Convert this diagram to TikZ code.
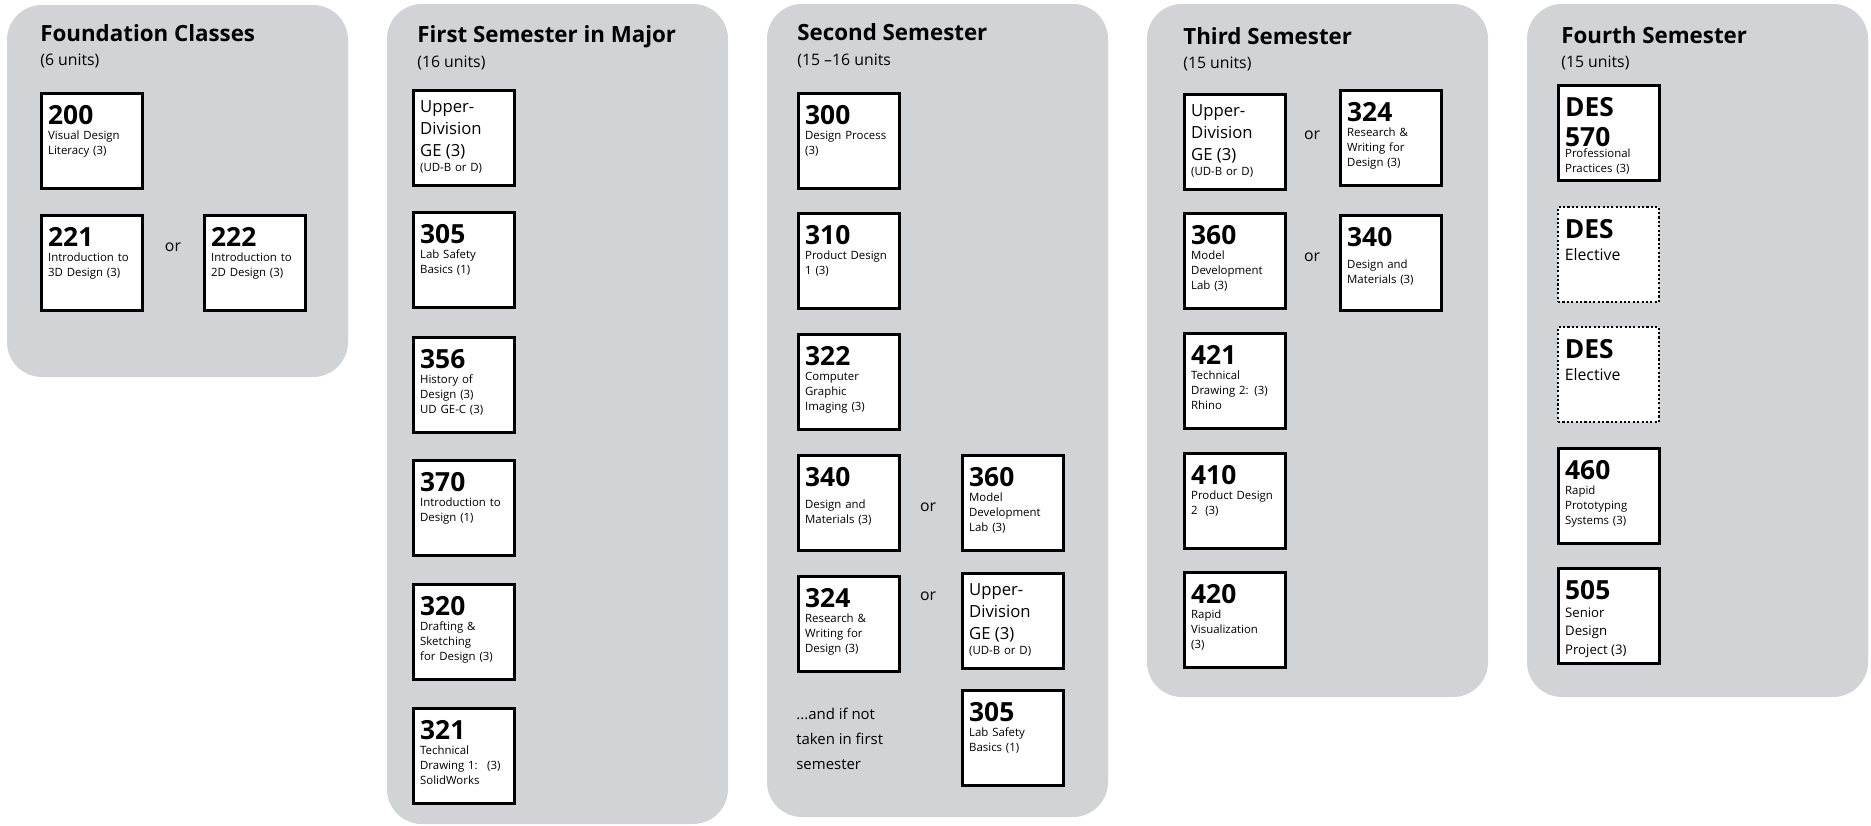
\documentclass[tikz,border=0pt]{standalone}
\usepackage{fontspec}
\setmainfont{Open Sans}
\usepackage{tikz}
\definecolor{panelgray}{HTML}{D1D3D4}
\newcommand{\cnum}[1]{{\fontsize{15}{17}\selectfont\bfseries #1\par}}
\newcommand{\cdesc}[1]{{\fontsize{6.5}{8.5}\selectfont #1\par}}
\newcommand{\gehead}{{\fontsize{9.5}{12.3}\selectfont\spaceskip=0pt Upper-\\Division\\GE (3)\par}\cdesc{(UD-B or D)}}

\begin{document}
\begin{tikzpicture}[x=0.02cm, y=-0.02cm,
	course/.style={draw=black, line width=1.6pt, fill=white, anchor=north west, align=left,
		font=\fontsize{6.5}{8.5}\selectfont, text width=1.75cm, inner xsep=0.135cm, inner ysep=0.1cm,
		text height=0.52cm, text depth=1.18cm},
	ge/.style={course, text height=0.35cm, text depth=1.35cm},
	elective/.style={course, line width=1.2pt, dash pattern=on 1.2pt off 1.3pt},
	title/.style={anchor=base west, inner sep=0pt, font=\fontsize{12.7}{15}\selectfont\bfseries},
	units/.style={anchor=base west, inner sep=0pt, font=\fontsize{9}{11}\selectfont},
	ortext/.style={inner sep=0pt, font=\fontsize{9}{11}\selectfont}]
	\useasboundingbox (0,0) rectangle (1871,825);
	\begin{scope}[every path/.style={fill=panelgray, rounded corners=0.7cm}]
		\path (7,5) rectangle (348,377);
		\path (387,4) rectangle (728,824);
		\path (767,4) rectangle (1108,817);
		\path (1147,4) rectangle (1488,697);
		\path (1527,4) rectangle (1868,697);
	\end{scope}
	\node[title] (t1) at (40,41) {Foundation Classes};
	\node[units] (u1) at (40,65) {(6 units)};
	\node[title] (t2) at (417,42) {First Semester in Major};
	\node[units] (u2) at (417,67) {(16 units)};
	\node[title] (t3) at (797,40) {Second Semester};
	\node[units] (u3) at (797,65) {(15 –16 units};
	\node[title] (t4) at (1183,44) {Third Semester};
	\node[units] (u4) at (1183,68) {(15 units)};
	\node[title] (t5) at (1561,43) {Fourth Semester};
	\node[units] (u5) at (1561,67) {(15 units)};
	\begin{scope}[every node/.style={course}]
		\node (fc200) at (40,92) {\cnum{200}\cdesc{Visual Design\\Literacy (3)}};
		\node (fc221) at (40,214) {\cnum{221}\cdesc{Introduction to\\3D Design (3)}};
		\node (fc222) at (203,214) {\cnum{222}\cdesc{Introduction to\\2D Design (3)}};
		\node[ge] (s1ge) at (412,89) {\gehead};
		\node (s1305) at (412,211) {\cnum{305}\cdesc{Lab Safety\\Basics (1)}};
		\node (s1356) at (412,336) {\cnum{356}\cdesc{History of\\Design (3)\\UD GE-C (3)}};
		\node (s1370) at (412,459) {\cnum{370}\cdesc{Introduction to\\Design (1)}};
		\node (s1320) at (412,583) {\cnum{320}\cdesc{Drafting \&\\Sketching\\for Design (3)}};
		\node (s1321) at (412,707) {\cnum{321}\cdesc{Technical\\Drawing 1:~ (3)\\SolidWorks}};
		\node (s2300) at (797,92) {\cnum{300}\cdesc{Design Process\\(3)}};
		\node (s2310) at (797,212) {\cnum{310}\cdesc{Product Design\\1 (3)}};
		\node (s2322) at (797,333) {\cnum{322}\cdesc{Computer\\Graphic\\Imaging (3)}};
		\node (s2340) at (797,454) {\cnum{340}\vspace{4pt}\cdesc{Design and\\Materials (3)}};
		\node (s2360) at (961,454) {\cnum{360}\cdesc{Model\\Development\\Lab (3)}};
		\node (s2324) at (797,575) {\cnum{324}\cdesc{Research \&\\Writing for\\Design (3)}};
		\node[ge] (s2ge) at (961,572) {\gehead};
		\node (s2305) at (961,689) {\cnum{305}\cdesc{Lab Safety\\Basics (1)}};
		\node[ge] (s3ge) at (1183,93) {\gehead};
		\node (s3324) at (1339,89) {\cnum{324}\cdesc{Research \&\\Writing for\\Design (3)}};
		\node (s3360) at (1183,212) {\cnum{360}\cdesc{Model\\Development\\Lab (3)}};
		\node (s3340) at (1339,214) {\cnum{340}\vspace{4pt}\cdesc{Design and\\Materials (3)}};
		\node (s3421) at (1183,332) {\cnum{421}\cdesc{Technical\\Drawing 2: (3)\\Rhino}};
		\node (s3410) at (1183,452) {\cnum{410}\cdesc{Product Design\\2~ (3)}};
		\node (s3420) at (1183,571) {\cnum{420}\cdesc{Rapid\\Visualization\\(3)}};
		\node (s4570) at (1557,84) {\cnum{DES\\570}\vspace{-2pt}\cdesc{Professional\\Practices (3)}};
		\node[elective] (s4ela) at (1557,206) {\cnum{DES}{\fontsize{9}{13}\selectfont Elective\par}};
		\node[elective] (s4elb) at (1557,326) {\cnum{DES}{\fontsize{9}{13}\selectfont Elective\par}};
		\node (s4460) at (1557,447) {\cnum{460}\cdesc{Rapid\\Prototyping\\Systems (3)}};
		\node (s4505) at (1557,567) {\cnum{505}{\fontsize{7.5}{10.4}\selectfont\spaceskip=0pt Senior\\Design\\Project (3)\par}};
	\end{scope}
	\begin{scope}[every node/.style={ortext}]
		\node (or1) at (173,247) {or};
		\node (or2) at (928,507) {or};
		\node (or3) at (928,596) {or};
		\node (or4) at (1312,135) {or};
		\node (or5) at (1312,257) {or};
	\end{scope}
	\node[anchor=base west, inner sep=0pt, align=left, font=\fontsize{8.5}{14.2}\selectfont] (note) at (796,769) {...and if not\\taken in first\\semester};
\end{tikzpicture}
\end{document}
